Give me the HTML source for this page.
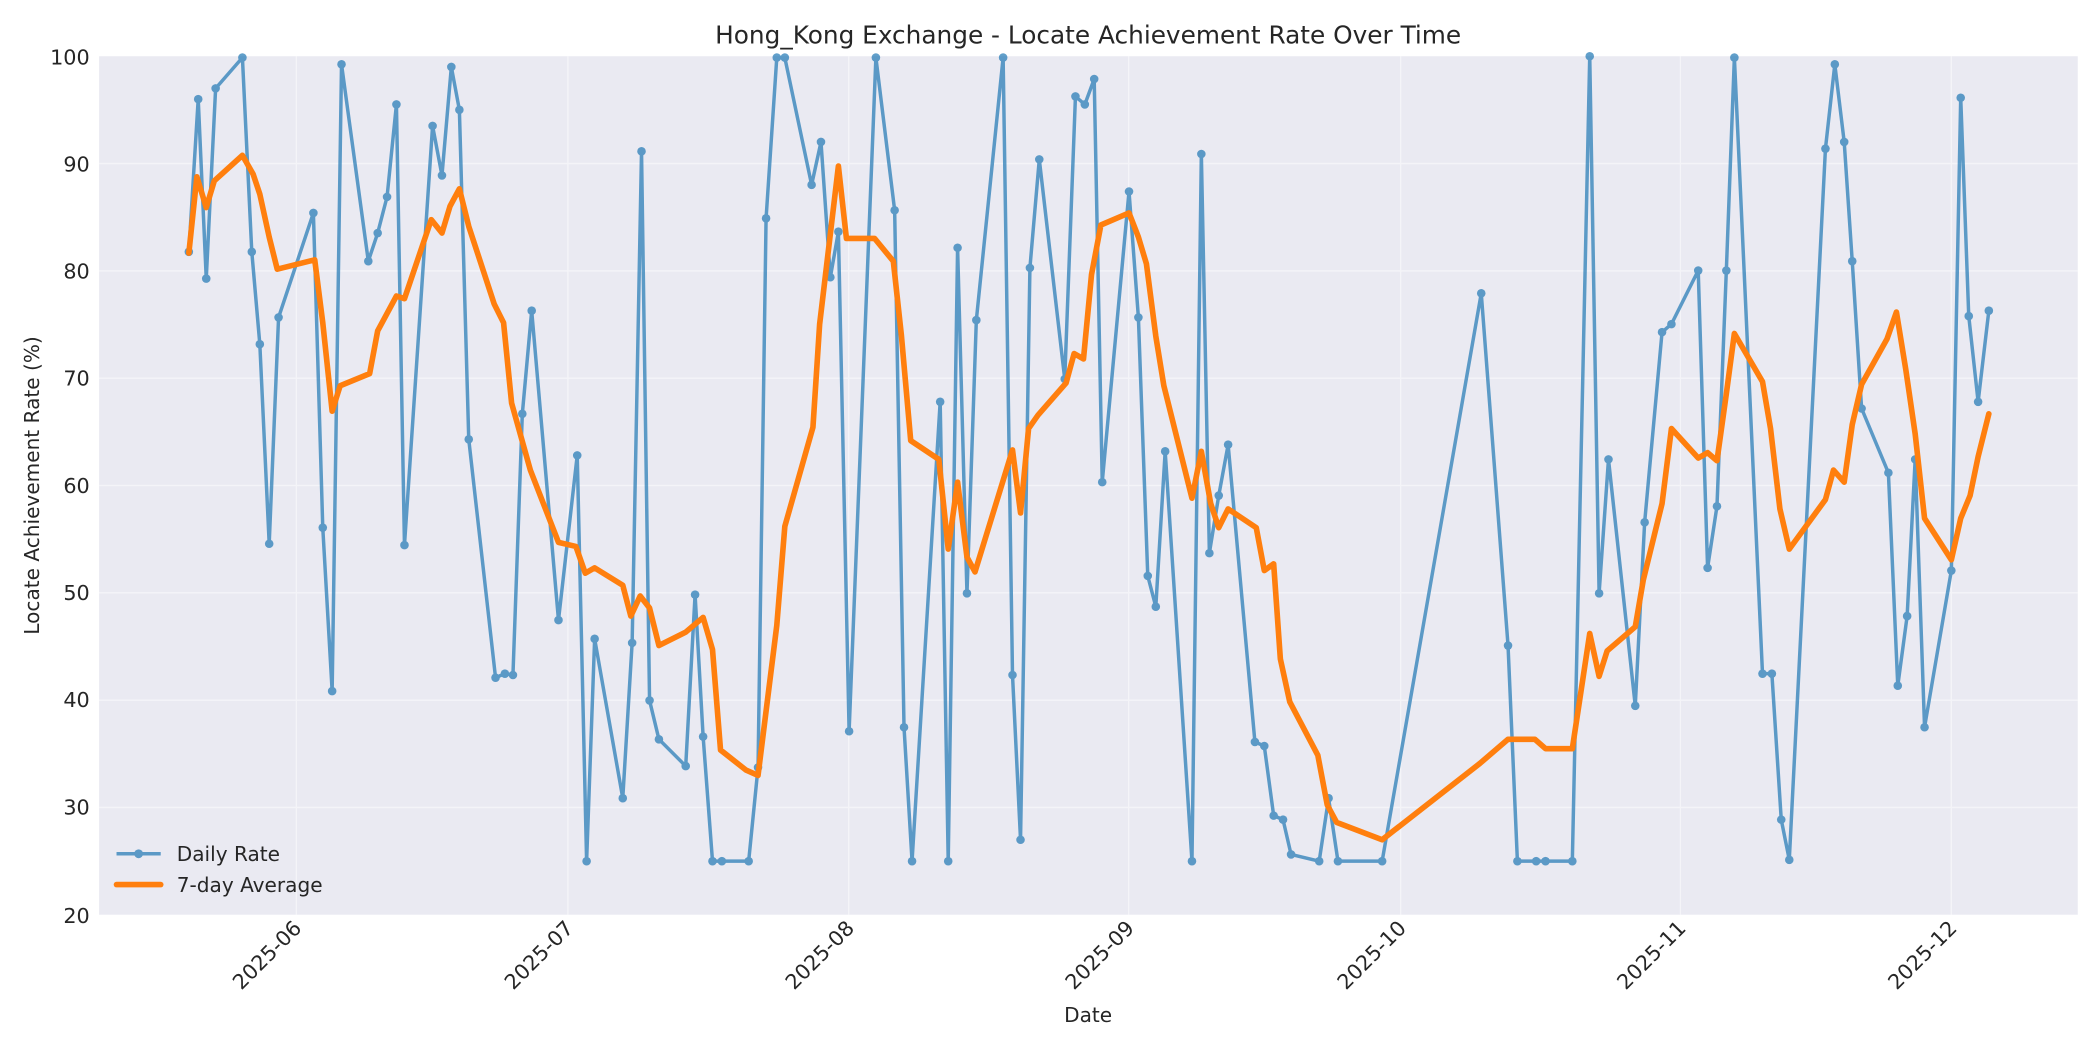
<!DOCTYPE html>
<html><head><meta charset="utf-8"><style>
html,body{margin:0;padding:0;background:#fff;}
svg{display:block;}
text{font-family:"DejaVu Sans","Liberation Sans",sans-serif;fill:#262626;}
</style></head><body>
<svg width="2100" height="1050" viewBox="0 0 1568 784" xmlns="http://www.w3.org/2000/svg">
<rect x="0" y="0" width="1568" height="784" fill="#fff"/>
<rect x="74" y="42" width="1477.4" height="641" fill="#eaeaf2"/>
<g stroke="#ffffff" stroke-width="1" opacity="0.5">
<line x1="74" x2="1551.4" y1="122.1" y2="122.1"/>
<line x1="74" x2="1551.4" y1="202.3" y2="202.3"/>
<line x1="74" x2="1551.4" y1="282.4" y2="282.4"/>
<line x1="74" x2="1551.4" y1="362.5" y2="362.5"/>
<line x1="74" x2="1551.4" y1="442.6" y2="442.6"/>
<line x1="74" x2="1551.4" y1="522.8" y2="522.8"/>
<line x1="74" x2="1551.4" y1="602.9" y2="602.9"/>
<line x1="221.3" x2="221.3" y1="42" y2="683"/>
<line x1="424" x2="424" y1="42" y2="683"/>
<line x1="633.7" x2="633.7" y1="42" y2="683"/>
<line x1="842.7" x2="842.7" y1="42" y2="683"/>
<line x1="1045.8" x2="1045.8" y1="42" y2="683"/>
<line x1="1254.7" x2="1254.7" y1="42" y2="683"/>
<line x1="1457" x2="1457" y1="42" y2="683"/>
</g>
<g font-size="15.5" text-anchor="end">
<text x="67" y="48">100</text>
<text x="67" y="128">90</text>
<text x="67" y="208">80</text>
<text x="67" y="288">70</text>
<text x="67" y="368">60</text>
<text x="67" y="448">50</text>
<text x="67" y="528">40</text>
<text x="67" y="608">30</text>
<text x="67" y="689">20</text>
</g>
<g font-size="15.5" text-anchor="end">
<text transform="translate(226,694) rotate(-45)">2025-06</text>
<text transform="translate(429,694) rotate(-45)">2025-07</text>
<text transform="translate(638.7,694) rotate(-45)">2025-08</text>
<text transform="translate(847.7,694) rotate(-45)">2025-09</text>
<text transform="translate(1050.8,694) rotate(-45)">2025-10</text>
<text transform="translate(1259.7,694) rotate(-45)">2025-11</text>
<text transform="translate(1462,694) rotate(-45)">2025-12</text>
</g>
<text x="812.5" y="32.4" font-size="18.5" text-anchor="middle">Hong_Kong Exchange - Locate Achievement Rate Over Time</text>
<text x="812.5" y="763" font-size="15" text-anchor="middle">Date</text>
<text transform="translate(29,362.5) rotate(-90)" font-size="15" text-anchor="middle">Locate Achievement Rate (%)</text>
<g opacity="0.7">
<polyline id="bl" fill="none" stroke="#1f77b4" stroke-width="2.6" stroke-linejoin="round" points="141,188 148,74 154,208 161,66 181,43 188,188 194,257 201,406 208,237 234,159 241,394 248,516 255,48 275,195 282,174 289,147 296,78 302,407 323,94 330,131 337,50 343,82 350,328 370,506 377,503 383,504 390,309 397,232 417,463 431,340 438,643 444,477 465,596 472,480 479,113 485,523 492,552 512,572 519,444 525,550 532,643 539,643 559,643 566,573 572,163 580,43 586,43 606,138 613,106 620,207 626,173 634,546 654,43 668,157 675,543 681,643 702,300 708,643 715,185 722,443 729,239 749,43 756,504 762,627 769,200 776,119 795,283 803,72 810,78 817,59 823,360 843,143 850,237 857,430 863,453 870,337 890,643 897,115 903,413 910,370 917,332 937,554 944,557 951,609 958,612 964,638 985,643 992,596 999,643 1032,643 1106,219 1126,482 1133,643 1147,643 1154,643 1174,643 1187,42 1194,443 1201,343 1221,527 1228,390 1241,248 1248,242 1268,202 1275,424 1282,378 1289,202 1295,43 1316,503 1323,503 1330,612 1336,642 1363,111 1370,48 1377,106 1383,195 1390,305 1410,353 1417,512 1424,460 1430,343 1437,543 1457,426 1464,73 1470,236 1477,300 1485,232"/>
<g fill="#1f77b4" id="mk"></g>
</g>
<polyline fill="none" stroke="#ff7f0e" stroke-width="4.2" stroke-linejoin="round" stroke-linecap="round" points="141,189 147,132 154,155 160,135 181,116 189,130 194,145 201,177 207,201 235,194 241,241 248,307 254,288 276,279 282,247 296,221 302,223 322,164 330,174 336,154 343,141 350,169 369,227 376,241 382,301 396,351 417,405 430,408 437,428 444,424 465,437 471,460 478,445 485,454 492,482 512,472 525,461 532,485 538,560 557,575 566,579 580,467 586,393 607,319 612,242 626,124 632,178 653,178 667,195 673,250 680,329 701,343 708,410 715,360 722,416 728,427 756,336 762,383 768,320 775,310 796,286 802,264 809,268 815,205 822,168 843,159 850,177 856,197 863,251 869,288 890,372 897,337 904,376 910,394 917,380 938,394 944,426 951,421 956,492 963,524 984,564 991,601 998,614 1032,627 1105,570 1126,552 1146,552 1154,559 1174,559 1187,473 1194,505 1200,486 1221,468 1227,433 1241,376 1248,320 1268,342 1275,338 1282,344 1289,294 1295,249 1316,285 1322,320 1329,380 1336,410 1363,373 1369,351 1377,360 1383,317 1390,287 1409,253 1416,233 1423,276 1430,324 1437,387 1457,418 1464,387 1471,370 1477,341 1485,309"/>
<g opacity="0.7">
<line x1="87" x2="120" y1="637.5" y2="637.5" stroke="#1f77b4" stroke-width="2.6"/>
<circle cx="103.5" cy="637.5" r="3.3" fill="#1f77b4"/>
</g>
<line x1="87" x2="120" y1="660.5" y2="660.5" stroke="#ff7f0e" stroke-width="4.2" stroke-linecap="round"/>
<text x="132" y="643" font-size="15">Daily Rate</text>
<text x="132" y="666" font-size="15">7-day Average</text>
</svg>
<script>
(function(){
var pts=document.getElementById("bl").getAttribute("points").trim().split(/\s+/);
var g=document.getElementById("mk"),ns="http://www.w3.org/2000/svg";
pts.forEach(function(p){var a=p.split(",");var c=document.createElementNS(ns,"circle");c.setAttribute("cx",a[0]);c.setAttribute("cy",a[1]);c.setAttribute("r","3.2");g.appendChild(c);});
})();
</script>
</body></html>
